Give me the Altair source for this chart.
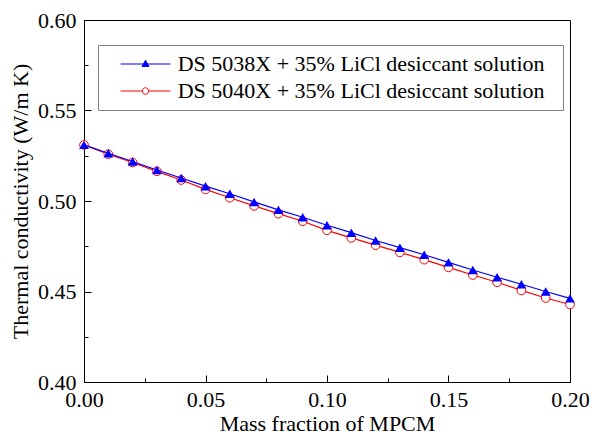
import altair as alt
import pandas as pd

# ---------------- data ----------------
mass_fraction = [0.00, 0.01, 0.02, 0.03, 0.04, 0.05, 0.06, 0.07, 0.08, 0.09, 0.10,
                 0.11, 0.12, 0.13, 0.14, 0.15, 0.16, 0.17, 0.18, 0.19, 0.20]
k_5038 = [0.5310, 0.5264, 0.5218, 0.5171, 0.5127, 0.5082, 0.5040, 0.4995, 0.4951, 0.4910, 0.4866,
          0.4825, 0.4782, 0.4742, 0.4703, 0.4661, 0.4619, 0.4579, 0.4540, 0.4500, 0.4462]
k_5040 = [0.5310, 0.5259, 0.5213, 0.5164, 0.5116, 0.5064, 0.5018, 0.4973, 0.4930, 0.4888, 0.4838,
          0.4796, 0.4756, 0.4716, 0.4676, 0.4633, 0.4591, 0.4551, 0.4506, 0.4464, 0.4428]
series_names = ["DS 5038X + 35% LiCl desiccant solution",
                "DS 5040X + 35% LiCl desiccant solution"]
x_ticks = [0.00, 0.05, 0.10, 0.15, 0.20]
x_minor = [0.025, 0.075, 0.125, 0.175]
y_ticks = [0.40, 0.45, 0.50, 0.55, 0.60]
y_minor = [0.425, 0.475, 0.525, 0.575]

df = pd.DataFrame({
    "x": mass_fraction + mass_fraction,
    "k": k_5038 + k_5040,
    "series": [series_names[0]] * len(mass_fraction) + [series_names[1]] * len(mass_fraction),
})

FONT = "Liberation Serif"
FS = 22
BLUE = "#0000ff"
RED = "#ff0000"

xs = alt.Scale(domain=[0.0, 0.2], nice=False, zero=False)
ys = alt.Scale(domain=[0.4, 0.6], nice=False, zero=False)

common = dict(grid=False, labelFont=FONT, labelFontSize=FS, labelColor="black",
              titleFont=FONT, titleFontSize=FS, titleColor="black", titleFontWeight="normal",
              labelFlush=False, labelOverlap=False)

ax_x_lab = alt.Axis(orient="bottom", values=x_ticks, format=".2f", ticks=False, tickSize=0,
                    labelPadding=7, domain=True, domainColor="black", domainWidth=1,
                    title="Mass fraction of MPCM", titlePadding=3, **common)
ax_y_lab = alt.Axis(orient="left", values=y_ticks, format=".2f", ticks=False, tickSize=0,
                    labelPadding=8, domain=True, domainColor="black", domainWidth=1,
                    title="Thermal conductivity (W/m K)", titlePadding=5, **common)
ax_x_major = alt.Axis(orient="bottom", values=x_ticks, labels=False, domain=False, grid=False,
                      ticks=True, tickSize=7, tickColor="black", tickWidth=1, offset=-7, title=None)
ax_y_major = alt.Axis(orient="left", values=y_ticks, labels=False, domain=False, grid=False,
                      ticks=True, tickSize=7, tickColor="black", tickWidth=1, offset=-7, title=None)
ax_x_minor = alt.Axis(orient="bottom", values=x_minor, labels=False, domain=False, grid=False,
                      ticks=True, tickSize=4, tickColor="black", tickWidth=1, offset=-4, title=None)
ax_y_minor = alt.Axis(orient="left", values=y_minor, labels=False, domain=False, grid=False,
                      ticks=True, tickSize=4, tickColor="black", tickWidth=1, offset=-4, title=None)
# empty axes that absorb Vega-Lite's automatic flipping of repeated axes
ax_x_dummy = alt.Axis(orient="bottom", labels=False, ticks=False, domain=False, grid=False, title=None)
ax_y_dummy = alt.Axis(orient="left", labels=False, ticks=False, domain=False, grid=False, title=None)

base = alt.Chart(df)
red = base.transform_filter(alt.datum.series == series_names[1])
blue = base.transform_filter(alt.datum.series == series_names[0])

red_line = red.mark_line(color=RED, strokeWidth=1.2).encode(
    x=alt.X("x:Q", scale=xs, axis=ax_x_lab),
    y=alt.Y("k:Q", scale=ys, axis=ax_y_lab),
)
red_pts = red.mark_point(shape="circle", size=75, filled=True, fill="white",
                         stroke=RED, strokeWidth=1, opacity=1).encode(
    x=alt.X("x:Q", scale=xs, axis=ax_x_dummy),
    y=alt.Y("k:Q", scale=ys, axis=ax_y_dummy),
)
blue_line = blue.mark_line(color=BLUE, strokeWidth=1.2).encode(
    x=alt.X("x:Q", scale=xs, axis=ax_x_major),
    y=alt.Y("k:Q", scale=ys, axis=ax_y_major),
)
blue_pts = blue.mark_point(shape="triangle-up", size=95, filled=True, color=BLUE,
                           opacity=1).encode(
    x=alt.X("x:Q", scale=xs, axis=ax_x_dummy),
    y=alt.Y("k:Q", scale=ys, axis=ax_y_dummy),
)

# legend symbols: a line with the marker in the middle
path_tri = "M-1,0L1,0M0,-0.15L0.14,0.1L-0.14,0.1Z"
path_circ = ("M-1,0L-0.13,0M0.13,0L1,0"
             "M-0.13,0A0.13,0.13,0,1,0,0.13,0A0.13,0.13,0,1,0,-0.13,0Z")

leg = alt.Legend(title="I")

legend_layer = base.mark_point(filled=True, opacity=0, strokeWidth=1).encode(
    x=alt.X("x:Q", scale=xs, axis=ax_x_minor),
    y=alt.Y("k:Q", scale=ys, axis=ax_y_minor),
    shape=alt.Shape("series:N", legend=leg,
                    scale=alt.Scale(domain=series_names, range=[path_tri, path_circ])),
    fill=alt.Fill("series:N", legend=leg,
                  scale=alt.Scale(domain=series_names, range=[BLUE, "#ffffff"])),
    stroke=alt.Stroke("series:N", legend=leg,
                      scale=alt.Scale(domain=series_names, range=[BLUE, RED])),
)

chart = alt.layer(red_line, red_pts, blue_line, blue_pts, legend_layer).resolve_axis(
    x="independent", y="independent"
).properties(
    width=486, height=362,
    padding={"left": 84, "top": 20, "right": 22, "bottom": 58},
    autosize=alt.AutoSizeParams(type="none"),
    background="white",
).configure_view(
    stroke="black", strokeWidth=1
).configure_legend(
    orient="none", legendX=14, legendY=25, padding=8,
    strokeColor="#808080", strokeWidth=1, fillColor="white",
    symbolSize=2500, symbolStrokeWidth=1, symbolOpacity=1,
    clipHeight=22, rowPadding=5, symbolOffset=14, labelOffset=6.7,
    labelFont=FONT, labelFontSize=FS, labelColor="black", labelLimit=0,
    titleOrient="right", titleColor="white", titleFontSize=6, titlePadding=8,
)

chart.save("out.html", embed_options={"renderer": "svg", "actions": False})
